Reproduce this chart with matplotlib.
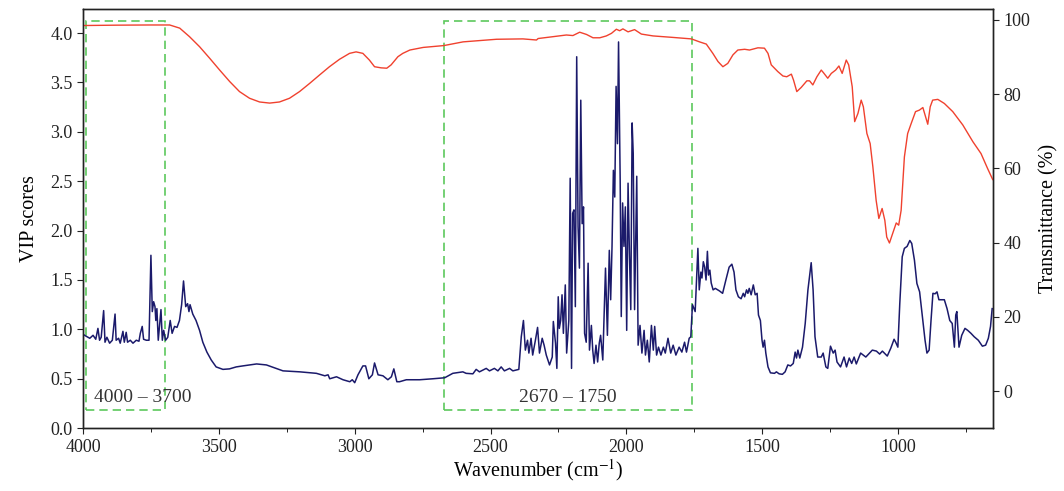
import numpy as np
import matplotlib
matplotlib.use("Agg")
import matplotlib.pyplot as plt
from matplotlib.patches import Rectangle

plt.rcParams['font.family'] = ['Liberation Serif', 'DejaVu Serif']
plt.rcParams['mathtext.fontset'] = 'stix'

# VIP scores (blue), wavenumber in cm-1
vip_wn = [4000, 3988, 3975, 3963, 3953, 3945, 3939, 3933, 3924, 3919, 3912, 3902, 3892, 3882, 3878,
          3869, 3863, 3853, 3848, 3841, 3836, 3826, 3816, 3804, 3794, 3789, 3782, 3777, 3767, 3757,
          3750, 3745, 3740, 3735, 3732, 3728, 3723, 3718, 3713, 3708, 3703, 3696, 3688, 3679, 3672,
          3663, 3654, 3645, 3637, 3630, 3622, 3615, 3610, 3606, 3596, 3584, 3571, 3559, 3544, 3528,
          3510, 3485, 3461, 3436, 3412,
          3361, 3325, 3264, 3202, 3141, 3110, 3098, 3092, 3067, 3043, 3018, 3009, 3000, 2988, 2970,
          2960, 2948, 2935, 2927, 2914, 2896, 2878, 2865, 2856, 2845, 2835, 2810, 2761, 2712, 2669,
          2639, 2602, 2590, 2565, 2553, 2541, 2516, 2504, 2486, 2473, 2461, 2449, 2430, 2418, 2396,
          2387, 2379, 2372, 2364, 2359, 2351, 2345, 2335, 2327,
          2320, 2310, 2303, 2295, 2283, 2273, 2269, 2261, 2256, 2251, 2247, 2242, 2237, 2232, 2225,
          2220, 2212, 2207, 2202, 2198, 2193, 2188, 2183, 2178, 2173, 2168, 2163, 2158, 2154, 2148,
          2141, 2136, 2129, 2124, 2119, 2112, 2106, 2100, 2095, 2087, 2077, 2070, 2063, 2058, 2053,
          2048, 2043, 2038, 2033, 2029, 2023, 2019, 2014, 2009, 2004, 1999, 1994, 1989, 1984, 1979,
          1975, 1970, 1962, 1957, 1950, 1943, 1935, 1930, 1923, 1916, 1908, 1901, 1896, 1889, 1882,
          1873, 1864, 1857, 1847, 1837, 1828, 1818, 1806, 1796, 1786, 1779,
          1769, 1763, 1757, 1747, 1737, 1732, 1726, 1722, 1717, 1712, 1707, 1702, 1698, 1693, 1688,
          1681, 1673, 1658, 1646, 1634, 1622, 1612, 1604, 1597, 1588, 1578, 1570, 1565, 1558, 1553,
          1548, 1541, 1533, 1526, 1519, 1514, 1507, 1501, 1497, 1492, 1487, 1479, 1470, 1455, 1448,
          1438, 1426, 1416, 1406, 1396, 1386, 1379, 1374, 1369, 1362, 1352, 1342, 1332, 1320, 1313,
          1306, 1296, 1283, 1276, 1266, 1259, 1249, 1239, 1232, 1225, 1212,
          1199, 1190, 1180, 1171, 1162, 1154, 1138, 1119, 1095, 1080, 1068, 1058, 1040, 1027, 1015,
          1009, 1001, 994, 985, 977, 967, 957, 950, 940, 931, 921, 911, 901, 894, 886,
          879, 872, 864, 857, 850, 840, 830, 820, 810, 801, 793, 788, 784, 776, 766,
          754, 744, 732, 720, 705, 690, 678, 668, 660, 654]
vip = [0.95, 0.93, 0.91, 0.94, 0.90, 1.01, 0.89, 0.92, 1.19, 0.87, 0.92, 0.86, 0.89, 1.155, 0.89,
       0.91, 0.86, 0.98, 0.87, 0.97, 0.87, 0.89, 0.86, 0.89, 0.88, 0.96, 1.03, 0.90, 0.89, 0.89,
       1.75, 1.18, 1.28, 1.23, 1.09, 1.21, 0.89, 1.04, 1.20, 0.89, 0.99, 0.89, 0.92, 1.09, 0.96,
       1.03, 1.02, 1.09, 1.25, 1.49, 1.23, 1.26, 1.18, 1.25, 1.155, 1.09, 0.99, 0.87, 0.77, 0.69,
       0.62, 0.595, 0.60, 0.62, 0.63,
       0.65, 0.64, 0.58, 0.57, 0.555, 0.53, 0.54, 0.50, 0.52, 0.49, 0.47, 0.49, 0.46, 0.54, 0.63,
       0.63, 0.50, 0.54, 0.66, 0.54, 0.53, 0.49, 0.52, 0.60, 0.47, 0.47, 0.49, 0.49, 0.50, 0.51,
       0.555, 0.57, 0.555, 0.55, 0.595, 0.57, 0.605, 0.58, 0.605, 0.58, 0.62, 0.58, 0.605, 0.58, 0.595,
       0.925, 1.09, 0.79, 0.89, 0.76, 0.91, 0.74, 0.89, 1.02,
       0.76, 0.91, 0.84, 0.74, 0.64, 0.72, 1.08, 0.86, 0.605, 1.33, 1.01, 1.09, 1.35, 0.96, 1.45,
       0.76, 1.09, 2.53, 0.605, 2.175, 2.21, 1.23, 3.76, 2.04, 1.62, 3.32, 2.07, 2.24, 0.96, 0.87,
       1.67, 0.79, 1.04, 0.79, 0.655, 0.84, 0.67, 0.86, 0.94, 0.69, 1.62, 0.94, 1.80, 1.30, 1.84,
       2.61, 2.34, 3.46, 2.88, 3.91, 2.51, 1.13, 2.28, 1.84, 2.24, 0.99, 2.48, 1.77, 1.20, 3.09,
       2.78, 1.20, 2.55, 0.84, 1.04, 0.76, 0.99, 0.74, 0.89, 0.67, 1.04, 0.79, 1.03, 0.74, 0.82,
       0.74, 0.82, 0.76, 0.91, 0.76, 0.84, 0.74, 0.82, 0.77, 0.87, 0.77,
       0.91, 0.925, 1.25, 1.18, 1.82, 1.40, 1.58, 1.52, 1.685, 1.63, 1.50, 1.79, 1.55, 1.60, 1.47,
       1.40, 1.415, 1.39, 1.365, 1.50, 1.63, 1.66, 1.58, 1.40, 1.33, 1.31, 1.365, 1.33, 1.40, 1.365,
       1.415, 1.35, 1.45, 1.35, 1.365, 1.145, 1.09, 0.89, 0.82, 0.89, 0.76, 0.62, 0.56, 0.555, 0.57,
       0.55, 0.545, 0.57, 0.64, 0.63, 0.655, 0.77, 0.71, 0.79, 0.71, 0.82, 1.06, 1.40, 1.675, 1.40,
       0.925, 0.72, 0.72, 0.76, 0.62, 0.605, 0.83, 0.76, 0.79, 0.67, 0.62,
       0.72, 0.62, 0.71, 0.655, 0.72, 0.65, 0.76, 0.72, 0.79, 0.78, 0.75, 0.78, 0.73, 0.81, 0.90,
       0.87, 0.82, 1.26, 1.735, 1.82, 1.84, 1.90, 1.87, 1.70, 1.465, 1.38, 1.13, 0.89, 0.76, 0.79,
       1.09, 1.365, 1.36, 1.38, 1.30, 1.30, 1.30, 1.21, 1.09, 1.06, 0.82, 1.145, 1.18, 0.82, 0.94,
       1.01, 0.99, 0.96, 0.925, 0.89, 0.83, 0.84, 0.91, 1.03, 1.21]

# FTIR transmittance (red)
ir_wn = [4000, 3878, 3755, 3681, 3644, 3608, 3571, 3534, 3497, 3460, 3424, 3387, 3350, 3313, 3277,
         3240, 3203, 3166, 3129, 3093, 3056, 3019, 2995, 2970, 2946, 2927, 2903, 2882, 2866, 2841,
         2823, 2797, 2748, 2672, 2601, 2478, 2381, 2331, 2325, 2270, 2221, 2197, 2172, 2147, 2123,
         2098, 2074, 2055, 2037, 2025, 2013, 1994, 1970, 1945, 1902, 1829, 1761, 1731, 1706, 1682,
         1663, 1645, 1627, 1608, 1590, 1565, 1547, 1516, 1492, 1479, 1467, 1443, 1424, 1410, 1393,
         1385, 1373, 1357, 1336, 1326, 1314, 1299, 1283, 1275, 1259, 1246, 1230, 1218, 1206, 1191,
         1182, 1169, 1160, 1148, 1136, 1128, 1115, 1103, 1093, 1081, 1071, 1059, 1049, 1042, 1032,
         1020, 1007, 998, 989, 977, 965, 952, 936, 922, 909, 899, 891, 882, 873, 854,
         830, 799, 762, 725, 695, 671, 652]
transmittance = [98.5, 98.6, 98.65, 98.65, 97.8, 95.5, 92.8, 89.7, 86.5, 83.4, 80.7, 78.9, 77.9, 77.6, 77.9,
                 78.9, 80.7, 82.9, 85.2, 87.4, 89.4, 91.0, 91.4, 91.0, 89.2, 87.4, 87.1, 87.0, 87.9, 90.1,
                 91.0, 91.9, 92.6, 93.1, 94.1, 94.8, 94.9, 94.6, 95.0, 95.5, 95.95, 95.8, 96.7, 96.1, 95.2,
                 95.2, 95.7, 96.4, 97.5, 97.1, 97.6, 96.8, 97.4, 96.2, 95.7, 95.3, 94.9, 94.1, 93.5, 91.0,
                 88.8, 87.4, 88.3, 90.6, 91.9, 92.1, 91.9, 92.5, 92.4, 91.0, 87.9, 86.1, 84.9, 84.7, 85.4,
                 83.8, 80.7, 81.8, 83.6, 83.6, 82.5, 84.7, 86.5, 85.8, 84.3, 85.6, 86.5, 87.6, 85.6, 89.2,
                 87.9, 82.0, 72.6, 74.8, 78.4, 76.6, 69.4, 66.7, 60.4, 51.4, 46.5, 49.2, 46.0, 41.5, 39.9,
                 42.5, 45.3, 44.7, 48.7, 63.1, 69.4, 72.1, 75.3, 75.7, 76.4, 73.9, 71.9, 76.6, 78.4, 78.6,
                 77.5, 75.3, 71.7, 67.2, 64.0, 60.0, 57.0]

# highlighted regions: (start, end, label, label centre)
regions = [(3990, 3700, "4000 \u2013 3700", 3780), (2670, 1760, "2670 \u2013 1750", 2215)]

fig = plt.figure(figsize=(10.64, 4.91), dpi=100)
ax1 = fig.add_axes([0.078, 0.128, 0.8555, 0.854])
ax2 = ax1.twinx()

ax1.plot(vip_wn, vip, color='#1b1a6b', lw=1.1, zorder=3)
ax2.plot(ir_wn, transmittance, color='#f0412e', lw=1.0)

for x0, x1, lab, xc in regions:
    ax1.add_patch(Rectangle((x0, 0.18), x1 - x0, 3.94, fill=False, ec='#5cc85c',
                            ls=(0, (5, 3)), lw=1.2, zorder=2))
    ax1.text(xc, 0.31, lab, ha='center', va='center', fontsize=14, color='#333333')

ax1.set_xlim(4000, 650)
ax1.set_ylim(0, 4.245)
ax2.set_ylim(-10, 103)
ax1.set_xticks([4000, 3500, 3000, 2500, 2000, 1500, 1000])
ax1.set_xticks(np.arange(3750, 650, -500), minor=True)
ax1.set_yticks(np.arange(0, 4.01, 0.5))
ax1.set_yticklabels([f"{v:.1f}" for v in np.arange(0, 4.01, 0.5)])
ax2.set_yticks([0, 20, 40, 60, 80, 100])

ax1.set_xlabel(r"Wavenumber (cm$^{-1}$)", fontsize=14.5, labelpad=1)
ax1.set_ylabel("VIP scores", fontsize=14.5, labelpad=8)
ax2.set_ylabel("Transmittance (%)", fontsize=14.5, labelpad=6)

for ax in (ax1, ax2):
    ax.tick_params(axis='both', which='major', labelsize=13, direction='out', length=4,
                   colors='#222222')
    ax.tick_params(axis='x', which='minor', direction='out', length=3)
    for s in ax.spines.values():
        s.set_color('#222222')
        s.set_linewidth(1.0)

fig.savefig("out.png", dpi=100)
